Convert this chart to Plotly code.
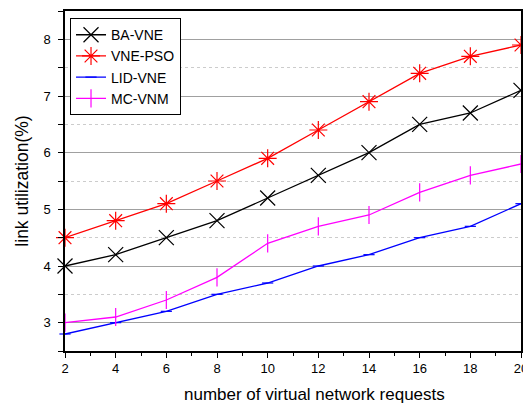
import plotly.graph_objects as go

x_requests = [2, 4, 6, 8, 10, 12, 14, 16, 18, 20]
ba_vne = [4.0, 4.2, 4.5, 4.8, 5.2, 5.6, 6.0, 6.5, 6.7, 7.1]
vne_pso = [4.5, 4.8, 5.1, 5.5, 5.9, 6.4, 6.9, 7.4, 7.7, 7.9]
lid_vne = [2.8, 3.0, 3.2, 3.5, 3.7, 4.0, 4.2, 4.5, 4.7, 5.1]
mc_vnm = [3.0, 3.1, 3.4, 3.8, 4.4, 4.7, 4.9, 5.3, 5.6, 5.8]

series = [
    ("BA-VNE", ba_vne, "black", "x-thin", 15),
    ("VNE-PSO", vne_pso, "red", "asterisk", 15),
    ("LID-VNE", lid_vne, "blue", "line-ew", 8),
    ("MC-VNM", mc_vnm, "magenta", "line-ns", 13),
]

fig = go.Figure()
for name, ys, color, sym, size in series:
    fig.add_trace(go.Scatter(
        x=x_requests, y=ys, name=name, mode="lines+markers",
        line=dict(color=color, width=1.3),
        marker=dict(symbol=sym, size=size, color=color,
                    line=dict(color=color, width=1.2)),
        cliponaxis=False,
    ))

# page body has an 8px default margin, so the figure is 8px smaller than the window
fig.update_layout(
    width=523, height=400,
    margin=dict(l=57, r=10, t=3, b=57, autoexpand=False),
    paper_bgcolor="white", plot_bgcolor="white",
    font=dict(family="Arial, Liberation Sans, sans-serif", size=13, color="black"),
    legend=dict(x=0.011, y=0.979, xanchor="left", yanchor="top",
                bordercolor="black", borderwidth=1, bgcolor="white",
                font=dict(size=14), tracegroupgap=0, itemwidth=30),
    annotations=[dict(
        text="number of virtual network requests", xref="paper", yref="paper",
        x=0.548, y=-0.129, xanchor="center", yanchor="middle", showarrow=False,
        font=dict(size=17),
    )],
)
fig.update_xaxes(
    range=[2, 20], dtick=2, tick0=2, showgrid=False, zeroline=False, automargin=False,
    showline=True, linecolor="black", linewidth=1.5, mirror=True,
    ticks="outside", ticklen=5, tickcolor="black", tickfont=dict(size=13),
    minor=dict(dtick=1, ticks="outside", ticklen=3, tickcolor="black", showgrid=False),
)
fig.update_yaxes(
    range=[2.5, 8.5], dtick=1, tick0=3, showgrid=True, gridcolor="#a0a0a0", gridwidth=1,
    zeroline=False, showline=True, linecolor="black", linewidth=1.5, mirror=True,
    automargin=False,
    ticks="outside", ticklen=5, tickcolor="black", tickfont=dict(size=13),
    ticklabelstandoff=5,
    minor=dict(dtick=0.5, tick0=2.5, ticks="outside", ticklen=5, tickcolor="black",
               showgrid=True, gridcolor="#cccccc", griddash="dot", gridwidth=1),
    title=dict(text="link utilization(%)", font=dict(size=17.5), standoff=10),
)

fig.write_html("out.html")
